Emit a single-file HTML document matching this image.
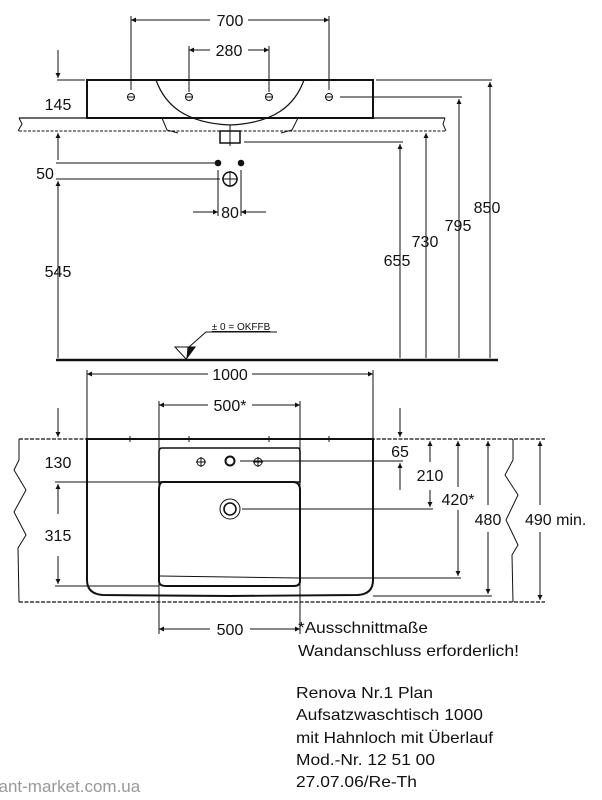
<!DOCTYPE html>
<html><head><meta charset="utf-8"><style>
html,body{margin:0;padding:0;background:#fff;}
svg{display:block;}
text{font-family:"Liberation Sans",sans-serif;fill:#111;}
</style></head><body>
<svg width="602" height="800" viewBox="0 0 602 800" xmlns="http://www.w3.org/2000/svg">
<defs>
<marker id="a" viewBox="0 0 10 10" refX="10" refY="5" markerWidth="8" markerHeight="5" orient="auto-start-reverse" markerUnits="userSpaceOnUse"><path d="M0,0 L10,5 L0,10 z" fill="#111"/></marker>
</defs>
<g stroke="#111" stroke-width="1" fill="none">
<line x1="131" y1="16" x2="131" y2="90"/><line x1="329" y1="16" x2="329" y2="90"/>
<line x1="131" y1="20" x2="210" y2="20" marker-start="url(#a)"/><line x1="248" y1="20" x2="329" y2="20" marker-end="url(#a)"/>
<line x1="189" y1="46" x2="189" y2="92"/><line x1="269" y1="46" x2="269" y2="92"/>
<line x1="189" y1="50" x2="210" y2="50" marker-start="url(#a)"/><line x1="248" y1="50" x2="269" y2="50" marker-end="url(#a)"/>
<path d="M87,80 L373,80 L373,118 L87,118 Z" stroke-width="2"/>
<path d="M156,80 C165,105 185,123 230,125 C275,123 295,105 304,80" stroke-width="1.2"/>
<circle cx="131" cy="97" r="3.5"/><circle cx="189" cy="97" r="3.5"/><circle cx="269" cy="97" r="3.5"/><circle cx="329" cy="97" r="3.5"/>
<line x1="127" y1="97" x2="135" y2="97"/><line x1="185" y1="97" x2="193" y2="97"/><line x1="265" y1="97" x2="273" y2="97"/><line x1="325" y1="97" x2="333" y2="97"/>
<line x1="19" y1="118" x2="445" y2="118" stroke-width="1.3"/>
<line x1="19" y1="131" x2="445" y2="131" stroke-dasharray="3,1.5"/>
<path d="M19,118 L22,124 L18,131 M445,118 L443,124 L446,131"/>
<path d="M162,118 L167,130 L178,133 M298,118 L292,130 L281,133"/>
<rect x="220" y="131" width="20" height="12" stroke-width="1.5"/>
<line x1="230" y1="125" x2="230" y2="146"/>
<line x1="57" y1="80" x2="85" y2="80"/>
<line x1="58" y1="50" x2="58" y2="78" marker-end="url(#a)"/>
<line x1="58" y1="160" x2="58" y2="133" marker-end="url(#a)"/>
<line x1="56" y1="163" x2="215" y2="163"/>
<line x1="56" y1="179" x2="220" y2="179"/>
<line x1="58" y1="358" x2="58" y2="181" marker-end="url(#a)"/>
<circle cx="218" cy="163" r="2.8" fill="#111"/><circle cx="241" cy="163" r="2.8" fill="#111"/>
<circle cx="230" cy="179" r="7" stroke-width="1.5"/>
<line x1="222" y1="179" x2="238" y2="179"/><line x1="230" y1="171" x2="230" y2="187"/>
<line x1="218" y1="170" x2="218" y2="216"/><line x1="241" y1="170" x2="241" y2="216"/>
<line x1="193" y1="212" x2="218" y2="212" marker-end="url(#a)"/><line x1="266" y1="212" x2="241" y2="212" marker-end="url(#a)"/>
<line x1="244" y1="142" x2="403" y2="142"/>
<line x1="340" y1="97" x2="462" y2="97"/>
<line x1="376" y1="80" x2="492" y2="80"/>
<line x1="400" y1="144" x2="400" y2="358" marker-start="url(#a)"/>
<line x1="426" y1="133" x2="426" y2="358" marker-start="url(#a)"/>
<line x1="459" y1="99" x2="459" y2="358" marker-start="url(#a)"/>
<line x1="490" y1="82" x2="490" y2="358" marker-start="url(#a)"/>
<line x1="56" y1="360" x2="498" y2="360" stroke-width="2.5"/>
<path d="M175,347 L195,347 L186,359 Z"/>
<path d="M188,347 L195,347 L187,358 Z" fill="#111"/>
<path d="M189,347 L206,332 L277,332"/>

<line x1="87" y1="370" x2="87" y2="440"/><line x1="373" y1="370" x2="373" y2="440"/>
<line x1="87" y1="374" x2="208" y2="374" marker-start="url(#a)"/><line x1="252" y1="374" x2="373" y2="374" marker-end="url(#a)"/>
<line x1="159" y1="401" x2="159" y2="634"/><line x1="300" y1="401" x2="300" y2="634"/>
<line x1="159" y1="405" x2="208" y2="405" marker-start="url(#a)"/><line x1="252" y1="405" x2="300" y2="405" marker-end="url(#a)"/>
<line x1="19" y1="439" x2="545" y2="439" stroke-width="1.3" stroke-dasharray="4,1.5"/>
<line x1="19" y1="602" x2="545" y2="602" stroke-width="1.3" stroke-dasharray="4,1.5"/>
<path d="M19,439 L19,460 L14,470 L26,490 L14,512 L26,535 L18,548 L19,602"/>
<path d="M513,439 L513,460 L505,475 L518,495 L506,520 L518,545 L512,555 L513,602"/>
<path d="M87,439 L87,580 Q87,594 103,595 L230,596 L358,595 Q373,594 373,580 L373,439 Z" stroke-width="2"/>
<line x1="130" y1="436" x2="130" y2="442"/><line x1="189" y1="436" x2="189" y2="442"/><line x1="269" y1="436" x2="269" y2="442"/><line x1="329" y1="436" x2="329" y2="442"/>
<path d="M162,448 L298,448 Q300,448 300,452 L300,482 L159,482 L159,452 Q159,448 162,448 Z" stroke-width="1.6"/>
<path d="M163,482 L293,482 Q300,482 300,490 L300,581 Q300,586 294,586 L166,586 Q159,586 159,581 L159,490 Q159,482 163,482 Z" stroke-width="2"/>
<line x1="160" y1="576" x2="299" y2="578"/>
<circle cx="201" cy="462" r="4"/><line x1="196" y1="462" x2="206" y2="462"/><line x1="201" y1="457" x2="201" y2="467"/>
<circle cx="230" cy="461" r="4.5" stroke-width="2"/>
<circle cx="258" cy="462" r="4"/><line x1="253" y1="462" x2="263" y2="462"/><line x1="258" y1="457" x2="258" y2="467"/>
<circle cx="230" cy="509" r="10"/><circle cx="230" cy="509" r="6" stroke-width="1.6"/>
<line x1="58" y1="408" x2="58" y2="437" marker-end="url(#a)"/>
<line x1="55" y1="482" x2="159" y2="482"/>
<line x1="55" y1="586" x2="159" y2="586"/>
<line x1="58" y1="514" x2="58" y2="484" marker-end="url(#a)"/>
<line x1="58" y1="556" x2="58" y2="584" marker-end="url(#a)"/>
<line x1="159" y1="629" x2="210" y2="629" marker-start="url(#a)"/><line x1="250" y1="629" x2="300" y2="629" marker-end="url(#a)"/>
<line x1="240" y1="461" x2="403" y2="461"/>
<line x1="400" y1="408" x2="400" y2="437" marker-end="url(#a)"/>
<line x1="400" y1="490" x2="400" y2="463" marker-end="url(#a)"/>
<line x1="242" y1="509" x2="433" y2="509"/>
<line x1="430" y1="441" x2="430" y2="462" marker-start="url(#a)"/>
<line x1="430" y1="490" x2="430" y2="507" marker-end="url(#a)"/>
<line x1="300" y1="578" x2="461" y2="578"/>
<line x1="458" y1="441" x2="458" y2="487" marker-start="url(#a)"/>
<line x1="458" y1="510" x2="458" y2="576" marker-end="url(#a)"/>
<line x1="373" y1="596" x2="492" y2="596"/>
<line x1="488" y1="441" x2="488" y2="505" marker-start="url(#a)"/>
<line x1="488" y1="532" x2="488" y2="594" marker-end="url(#a)"/>
<line x1="540" y1="441" x2="540" y2="505" marker-start="url(#a)"/>
<line x1="540" y1="532" x2="540" y2="600" marker-end="url(#a)"/>
</g>
<g font-size="16">
<text x="230" y="26" text-anchor="middle">700</text>
<text x="229" y="56" text-anchor="middle">280</text>
<text x="58" y="110" text-anchor="middle">145</text>
<text x="45" y="179" text-anchor="middle">50</text>
<text x="230" y="218" text-anchor="middle">80</text>
<text x="58" y="277" text-anchor="middle">545</text>
<text x="397" y="266" text-anchor="middle">655</text>
<text x="425" y="247" text-anchor="middle">730</text>
<text x="458" y="231" text-anchor="middle">795</text>
<text x="487" y="213" text-anchor="middle">850</text>
<text x="241" y="330" text-anchor="middle" font-size="10" text-decoration="underline">± 0 = OKFFB</text>
<text x="230" y="380" text-anchor="middle">1000</text>
<text x="230" y="411" text-anchor="middle">500*</text>
<text x="58" y="468" text-anchor="middle">130</text>
<text x="58" y="541" text-anchor="middle">315</text>
<text x="230" y="635" text-anchor="middle">500</text>
<text x="400" y="457" text-anchor="middle">65</text>
<text x="430" y="481" text-anchor="middle">210</text>
<text x="458" y="505" text-anchor="middle">420*</text>
<text x="488" y="525" text-anchor="middle">480</text>
<text x="525" y="525">490 min.</text>
<text x="298" y="633" textLength="130" lengthAdjust="spacingAndGlyphs">*Ausschnittmaße</text>
<text x="298" y="656" textLength="221" lengthAdjust="spacingAndGlyphs">Wandanschluss erforderlich!</text>
<text x="296" y="698" textLength="137" lengthAdjust="spacingAndGlyphs">Renova Nr.1 Plan</text>
<text x="296" y="720" textLength="187" lengthAdjust="spacingAndGlyphs">Aufsatzwaschtisch 1000</text>
<text x="296" y="743" textLength="197" lengthAdjust="spacingAndGlyphs">mit Hahnloch mit Überlauf</text>
<text x="296" y="765" textLength="139" lengthAdjust="spacingAndGlyphs">Mod.-Nr. 12 51 00</text>
<text x="296" y="787" textLength="121" lengthAdjust="spacingAndGlyphs">27.07.06/Re-Th</text>
<text x="-10" y="792" font-size="17" style="fill:#999">sant-market.com.ua</text>
</g>
</svg>
</body></html>
